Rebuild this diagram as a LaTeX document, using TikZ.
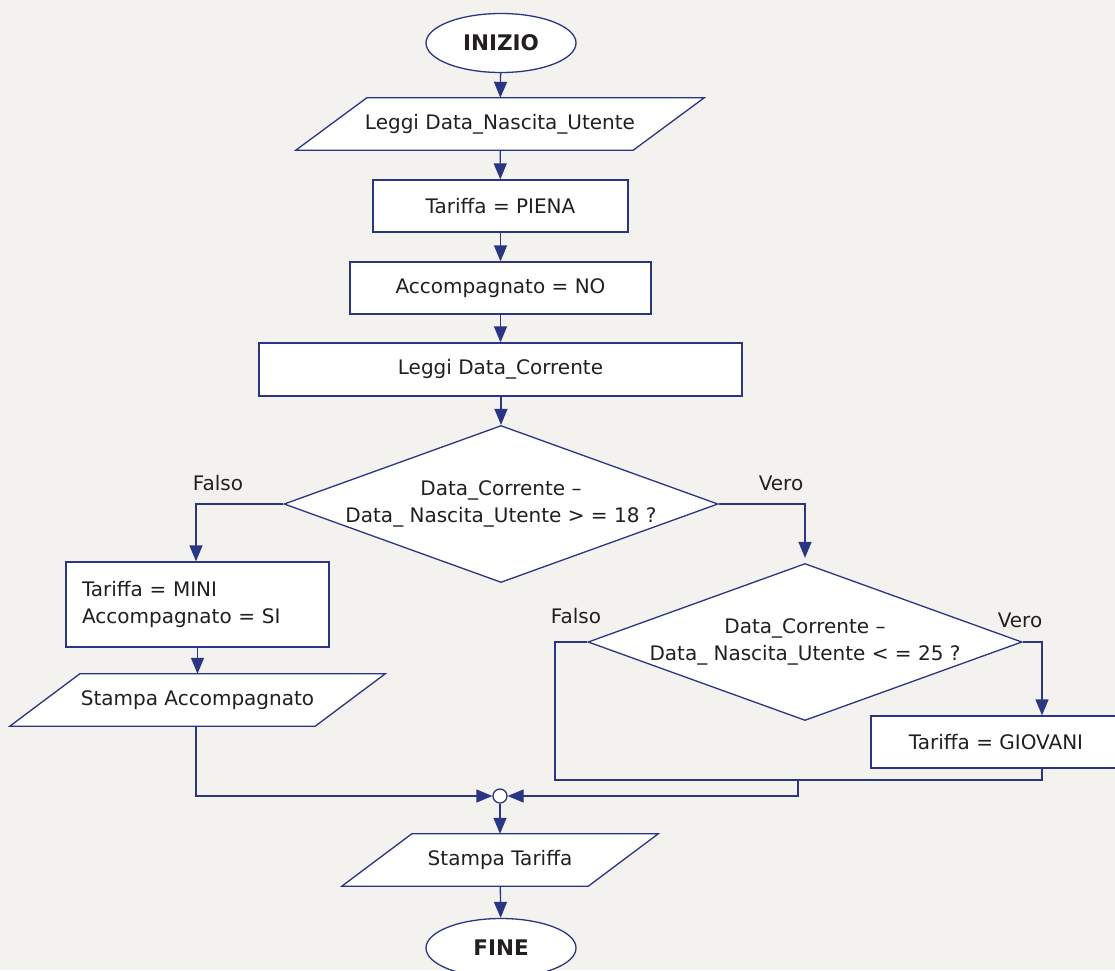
\documentclass[tikz,border=0pt]{standalone}
\usepackage{fontspec}
\setmainfont{DejaVu Sans}
\usetikzlibrary{shapes.geometric,arrows.meta,backgrounds}
\definecolor{bg}{HTML}{F3F2EE}
\definecolor{navy}{HTML}{2A3584}
\definecolor{ink}{HTML}{231F20}
% parallelogram (input/output block) drawn around a named core node
\newcommand\iopath[2]{%
  \path[line, fill=white] ([xshift=#2pt]#1.north west) -- ([xshift=#2pt]#1.north east)
    -- ([xshift=-#2pt]#1.south east) -- ([xshift=-#2pt]#1.south west) -- cycle;}
\begin{document}
\begin{tikzpicture}[x=1pt,y=-1pt,
  font=\fontsize{20}{27}\selectfont, text=ink,
  line/.style={draw=navy, line width=1.3pt},
  arr/.style={line, -{Triangle[length=16pt,width=13pt]}},
  box/.style={rectangle, line, fill=white, minimum height=52pt, inner sep=0pt},
  term/.style={ellipse, line, fill=white, minimum width=150pt, minimum height=59pt,
    inner sep=0pt, font=\fontsize{21.5}{26}\selectfont\bfseries},
  iobox/.style={rectangle, minimum height=52pt, inner sep=0pt},
  test/.style={diamond, line, fill=white, aspect=2.76, minimum width=434pt,
    minimum height=157pt, inner sep=-4pt, align=center},
  lbl/.style={inner sep=0pt},
  merge/.style={circle, line, fill=white, minimum size=14pt, inner sep=0pt},
]
\begin{pgfonlayer}{background}
  \fill[bg] (0,0) rectangle (1115,970);
\end{pgfonlayer}
\useasboundingbox (0,0) rectangle (1115,970);

% main column
\node[term] (ini) at (501,43) {INIZIO};
\node[iobox, minimum width=337pt] (in1) at (500,124) {Leggi Data\_Nascita\_Utente};
\node[box, minimum width=255pt] (piena) at (500.5,206) {Tariffa = PIENA};
\node[box, minimum width=301pt] (accno) at (500.5,288) {Accompagnato = NO};
\node[box, minimum width=483pt, minimum height=53pt] (corr) at (500.5,369.5) {Leggi Data\_Corrente};
\node[test] (d1) at (501,504) {Data\_Corrente –\\Data\_ Nascita\_Utente > = 18 ?};

% false branch of the first test
\node[box, minimum height=85pt, text width=231pt, inner xsep=16pt, align=left] (mini) at (197.5,604.5)
  {Tariffa = MINI\\Accompagnato = SI};
\node[iobox, minimum width=305pt] (out1) at (197.5,700) {Stampa Accompagnato};

% true branch of the first test
\node[test] (d2) at (805,642) {Data\_Corrente –\\Data\_ Nascita\_Utente < = 25 ?};
\node[box, minimum width=250pt] (giov) at (996,742) {Tariffa = GIOVANI};

% junction and end
\node[merge] (m) at (500,796) {};
\node[iobox, minimum width=246pt] (out2) at (500,860) {Stampa Tariffa};
\node[term] (fine) at (501,948) {FINE};

\begin{pgfonlayer}{background}
  \iopath{in1}{35.5}
  \iopath{out1}{35}
  \iopath{out2}{35}
\end{pgfonlayer}

% branch labels
\node[lbl] (f1) at (218,483) {Falso};
\node[lbl] (v1) at (781,483) {Vero};
\node[lbl] (f2) at (576,616) {Falso};
\node[lbl] (v2) at (1020,620) {Vero};

% connectors
\draw[arr] (ini) -- (in1);
\draw[arr] (in1) -- (piena);
\draw[arr] (piena) -- (accno);
\draw[arr] (accno) -- (corr);
\draw[arr] (corr.south -| d1.north) -- (d1.north);
\draw[arr] (d1.west) -| ([xshift=-1.5pt]mini.north);
\draw[arr, shorten >=5pt] (d1.east) -| (d2.north);
\draw[arr] (mini) -- (out1.north -| mini.south);

\coordinate (jl) at (555,780);
\coordinate (jr) at (1042,780);
\coordinate (jm) at (798,780);
\draw[arr] (d2.east) -| (jr |- giov.north);
\draw[line] (d2.west) -| (jl) -- (jr) -- (jr |- giov.south);
\draw[arr] (jm) |- (m.east);
\draw[arr] ([xshift=-1.5pt]out1.south) |- (m.west);
\draw[arr] (m) -- (out2);
\draw[arr] (out2) -- (fine);
\end{tikzpicture}
\end{document}
